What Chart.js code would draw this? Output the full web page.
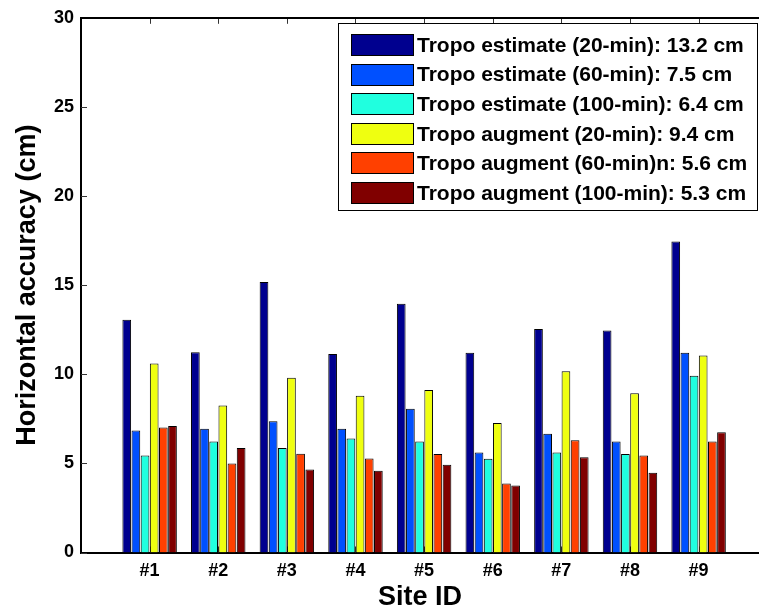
<!DOCTYPE html>
<html>
<head>
<meta charset="utf-8">
<script src="https://cdn.jsdelivr.net/npm/chart.js@4/dist/chart.umd.min.js"></script>
<style>
  html, body { margin: 0; padding: 0; background: #fff; }
  #wrap { width: 759px; height: 615px; }
</style>
</head>
<body>
<div id="wrap"><canvas id="chart" width="759" height="615"></canvas></div>
<script>
// ---- data ----
const sites = [1, 2, 3, 4, 5, 6, 7, 8, 9];
const siteLabels = ['#1', '#2', '#3', '#4', '#5', '#6', '#7', '#8', '#9'];
const yTicks = [0, 5, 10, 15, 20, 25, 30];

const seriesNames = [
    'Tropo estimate (20-min): 13.2 cm',
    'Tropo estimate (60-min): 7.5 cm',
    'Tropo estimate (100-min): 6.4 cm',
    'Tropo augment (20-min): 9.4 cm',
    'Tropo augment (60-min)n: 5.6 cm',
    'Tropo augment (100-min): 5.3 cm'
];
const seriesColors = ['#00008F', '#0050FF', '#20FFDF', '#EFFF10', '#FF4000', '#800000'];

const estimate20  = [13.06, 11.23, 15.17, 11.14, 13.96, 11.21, 12.54, 12.45, 17.45];
const estimate60  = [6.85, 6.94, 7.37, 6.94, 8.06, 5.61, 6.66, 6.23, 11.21];
const estimate100 = [5.44, 6.23, 5.87, 6.40, 6.23, 5.26, 5.61, 5.52, 9.91];
const augment20   = [10.60, 8.25, 9.81, 8.79, 9.12, 7.27, 10.17, 8.94, 11.05];
const augment60   = [7.01, 5.00, 5.54, 5.28, 5.52, 3.87, 6.30, 5.44, 6.23];
const augment100  = [7.10, 5.87, 4.66, 4.58, 4.92, 3.76, 5.35, 4.47, 6.75];

const allSeries = [estimate20, estimate60, estimate100, augment20, augment60, augment100];

const FAMILY = '"Liberation Sans", Arial, Helvetica, sans-serif';

// axes frame: top border, inward tick marks, legend box inside the plot
const framePlugin = {
    id: 'frame',
    beforeDatasetsDraw(chart) {
        const { ctx, chartArea: a, scales: { x, y } } = chart;
        ctx.save();
        ctx.strokeStyle = '#333';
        ctx.lineWidth = 1;
        ctx.beginPath();
        sites.forEach(v => {
            const px = Math.round(x.getPixelForValue(v)) + 0.5;
            ctx.moveTo(px, a.top); ctx.lineTo(px, a.top + 6);
            ctx.moveTo(px, a.bottom); ctx.lineTo(px, a.bottom - 6);
        });
        yTicks.forEach(v => {
            const py = Math.round(y.getPixelForValue(v)) + 0.5;
            ctx.moveTo(a.left, py); ctx.lineTo(a.left + 6, py);
        });
        ctx.stroke();
        ctx.strokeStyle = '#000';
        ctx.lineWidth = 2;
        ctx.beginPath();
        ctx.moveTo(a.left, Math.round(a.top));
        ctx.lineTo(chart.width, Math.round(a.top));
        ctx.stroke();
        ctx.restore();
    },
    afterDraw(chart) {
        const { ctx } = chart;
        const bx = 338.5, by = 23.5, bw = 419, bh = 187;
        ctx.save();
        ctx.fillStyle = '#fff';
        ctx.fillRect(bx, by, bw, bh);
        ctx.strokeStyle = '#000';
        ctx.lineWidth = 1;
        ctx.strokeRect(bx, by, bw, bh);
        ctx.font = 'bold 21px ' + FAMILY;
        ctx.textBaseline = 'middle';
        chart.data.datasets.forEach((ds, i) => {
            const cy = 45 + i * 29.6;
            ctx.fillStyle = ds.backgroundColor;
            ctx.fillRect(351, Math.round(cy - 11), 63, 22);
            ctx.strokeStyle = '#000';
            ctx.strokeRect(351.5, Math.round(cy - 11) + 0.5, 62, 21);
            ctx.fillStyle = '#000';
            ctx.fillText(ds.label, 417, cy + 1);
        });
        ctx.restore();
    }
};

new Chart(document.getElementById('chart'), {
    type: 'bar',
    data: {
        datasets: allSeries.map((vals, i) => ({
            label: seriesNames[i],
            data: sites.map((s, j) => ({ x: s, y: vals[j] })),
            backgroundColor: seriesColors[i],
            borderColor: '#000',
            borderWidth: 1
        }))
    },
    options: {
        responsive: false,
        animation: false,
        devicePixelRatio: 1,
        layout: { padding: { top: 17, left: 0, right: 0, bottom: 0 } },
        datasets: { bar: { categoryPercentage: 0.8, barPercentage: 0.95 } },
        plugins: { legend: { display: false }, tooltip: { enabled: false } },
        scales: {
            x: {
                type: 'linear',
                offset: false,
                min: 0,
                max: 9.88,
                afterBuildTicks: s => { s.ticks = sites.map(v => ({ value: v })); },
                afterFit: s => { s.height = 62.5; },
                grid: { display: false, drawTicks: false },
                border: { display: true, color: '#000', width: 2 },
                ticks: {
                    autoSkip: false,
                    maxRotation: 0,
                    padding: 8,
                    color: '#000',
                    font: { family: FAMILY, size: 18, weight: 'bold' },
                    callback: v => siteLabels[sites.indexOf(v)] || ''
                },
                title: {
                    display: true,
                    text: 'Site ID',
                    color: '#000',
                    font: { family: FAMILY, size: 27, weight: 'bold' },
                    padding: { top: 0, bottom: 1 }
                }
            },
            y: {
                min: 0,
                max: 30,
                afterBuildTicks: s => { s.ticks = yTicks.map(v => ({ value: v })); },
                afterFit: s => { s.width = 81; },
                grid: { display: false, drawTicks: false },
                border: { display: true, color: '#000', width: 2 },
                ticks: {
                    padding: 7,
                    color: '#000',
                    font: { family: FAMILY, size: 18, weight: 'bold' }
                },
                title: {
                    display: true,
                    text: 'Horizontal accuracy (cm)',
                    color: '#000',
                    font: { family: FAMILY, size: 27, weight: 'bold' },
                    padding: { top: 11, bottom: 0 }
                }
            }
        }
    },
    plugins: [framePlugin]
});
</script>
</body>
</html>
